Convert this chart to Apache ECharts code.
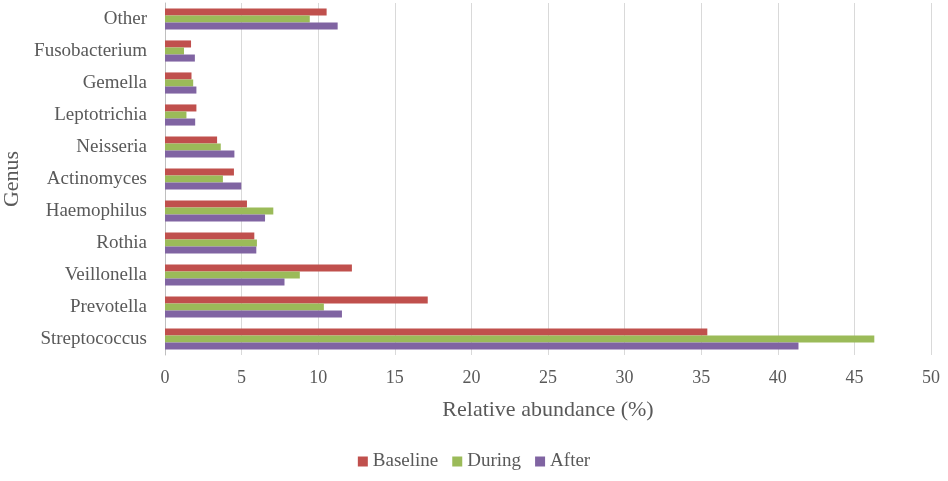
<!DOCTYPE html>
<html>
<head>
	<meta charset="utf-8"/>
	<title>Genus relative abundance</title>
	<script src="https://cdn.jsdelivr.net/npm/echarts@6/dist/echarts.min.js"></script>
	<style>
		html, body { margin: 0; padding: 0; background: #fff; }
		#chart { width: 948px; height: 481px; }
	</style>
</head>
<body>
<div id="chart"></div>
<script>
    // categories bottom to top, as on the y axis
    var genera = ['Streptococcus', 'Prevotella', 'Veillonella', 'Rothia', 'Haemophilus',
        'Actinomyces', 'Neisseria', 'Leptotrichia', 'Gemella', 'Fusobacterium', 'Other'];
    var baseline = [35.4, 17.15, 12.2, 5.83, 5.35, 4.5, 3.4, 2.05, 1.73, 1.7, 10.55];
    var during = [46.3, 10.37, 8.8, 6.0, 7.07, 3.78, 3.64, 1.4, 1.84, 1.24, 9.45];
    var after = [41.35, 11.55, 7.8, 5.96, 6.53, 4.98, 4.53, 1.97, 2.05, 1.95, 11.27];
    var xTicks = [0, 5, 10, 15, 20, 25, 30, 35, 40, 45, 50];

    var textColor = '#595959';
    var font = 'Liberation Serif';

    var myChart = echarts.init(document.getElementById('chart'));
    var option = {
        animation: false,
        grid: { left: 165, right: 17, top: 3, bottom: 126, outerBoundsMode: 'none' },
        legend: {
            bottom: 5,
            left: 'center',
            itemWidth: 10,
            itemHeight: 10,
            itemGap: 14,
            icon: 'rect',
            data: ['Baseline', 'During', 'After'],
            textStyle: { color: textColor, fontFamily: font, fontSize: 19 }
        },
        xAxis: {
            type: 'value',
            min: xTicks[0],
            max: xTicks[xTicks.length - 1],
            interval: 5,
            name: 'Relative abundance (%)',
            nameLocation: 'middle',
            nameGap: 44,
            nameTextStyle: { color: textColor, fontFamily: font, fontSize: 22 },
            axisLine: { show: false },
            axisTick: { show: false },
            axisLabel: { color: textColor, fontFamily: font, fontSize: 18, margin: 14 },
            splitLine: { lineStyle: { color: '#d9d9d9', width: 1 } }
        },
        yAxis: {
            type: 'category',
            data: genera,
            name: 'Genus',
            nameLocation: 'middle',
            nameGap: 142,
            nameTextStyle: { color: textColor, fontFamily: font, fontSize: 22 },
            axisLine: { show: true, lineStyle: { color: '#bfbfbf' } },
            axisTick: { show: false },
            axisLabel: { color: textColor, fontFamily: font, fontSize: 19, margin: 18 }
        },
        series: [
            { name: 'Baseline', type: 'bar', data: baseline, itemStyle: { color: '#c0504d' },
              barGap: '0%', barCategoryGap: '34%' },
            { name: 'During', type: 'bar', data: during, itemStyle: { color: '#9bbb59' } },
            { name: 'After', type: 'bar', data: after, itemStyle: { color: '#8064a2' } }
        ]
    };
    myChart.setOption(option);
</script>
</body>
</html>
